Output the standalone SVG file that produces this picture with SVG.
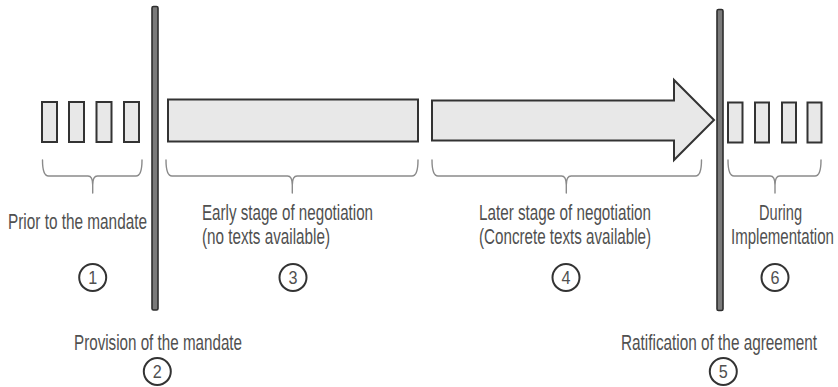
<svg xmlns="http://www.w3.org/2000/svg" width="838" height="387" viewBox="0 0 838 387">
  <style>
    .box { fill: #e8e8e8; stroke: #333; stroke-width: 2; }
    .bar { fill: #7a7a7a; stroke: #2e2e2e; stroke-width: 1.6; }
    .brace { fill: none; stroke: #8a8a8a; stroke-width: 1.4; stroke-linecap: round; }
    .lbl { font-family: "Liberation Sans", "DejaVu Sans", sans-serif; font-size: 22px; fill: #505050; }
    .num circle { fill: #fff; stroke: #333; stroke-width: 2; }
    .num text { font-family: "Liberation Sans", "DejaVu Sans", sans-serif; font-size: 19px; fill: #505050; text-anchor: middle; }
  </style>
  <rect width="838" height="387" fill="#fff"/>

  <!-- phase 1: before the mandate -->
  <g id="prior">
    <rect class="box" x="42" y="102" width="15" height="40"/>
    <rect class="box" x="69" y="102" width="15" height="40"/>
    <rect class="box" x="96.5" y="102" width="15" height="40"/>
    <rect class="box" x="124" y="102" width="15" height="40"/>
    <text class="lbl" x="8" y="229" textLength="139" lengthAdjust="spacingAndGlyphs">Prior to the mandate</text>
    <g class="num"><circle cx="92.7" cy="277.5" r="13.5"/><text x="92.7" y="284" textLength="9" lengthAdjust="spacingAndGlyphs">1</text></g>
  </g>

  <!-- milestone: mandate -->
  <g id="mandate">
    <rect class="bar" x="152" y="6.5" width="6" height="303.5" rx="1.5"/>
    <text class="lbl" x="74" y="350" textLength="168" lengthAdjust="spacingAndGlyphs">Provision of the mandate</text>
    <g class="num"><circle cx="157.3" cy="371.5" r="13.5"/><text x="157.3" y="378" textLength="9" lengthAdjust="spacingAndGlyphs">2</text></g>
  </g>

  <!-- phase 3: early negotiation -->
  <g id="early">
    <rect class="box" x="168" y="99.5" width="250" height="42"/>
    <text class="lbl" x="202" y="220" textLength="171" lengthAdjust="spacingAndGlyphs">Early stage of negotiation</text>
    <text class="lbl" x="202" y="244" textLength="128" lengthAdjust="spacingAndGlyphs">(no texts available)</text>
    <g class="num"><circle cx="293" cy="277.5" r="13.5"/><text x="293" y="284" textLength="9" lengthAdjust="spacingAndGlyphs">3</text></g>
  </g>

  <!-- phase 4: later negotiation -->
  <g id="later">
    <path class="box" d="M432,100.5 H674 V80 L714,120 L674,160 V140.5 H432 Z" stroke-linejoin="miter"/>
    <text class="lbl" x="479" y="220" textLength="172" lengthAdjust="spacingAndGlyphs">Later stage of negotiation</text>
    <text class="lbl" x="479" y="244" textLength="172" lengthAdjust="spacingAndGlyphs">(Concrete texts available)</text>
    <g class="num"><circle cx="566" cy="277.5" r="13.5"/><text x="566" y="284" textLength="9" lengthAdjust="spacingAndGlyphs">4</text></g>
  </g>

  <!-- milestone: ratification (narrowed labels near the right edge use a horizontal scale) -->
  <g id="ratification">
    <rect class="bar" x="717" y="9.5" width="6" height="301" rx="1.5"/>
    <text class="lbl" transform="translate(621,350) scale(0.697,1)">Ratification of the agreement</text>
    <g class="num"><circle cx="723.3" cy="371.5" r="13.5"/><text x="723.3" y="378" textLength="9" lengthAdjust="spacingAndGlyphs">5</text></g>
  </g>

  <!-- phase 6: implementation -->
  <g id="implementation">
    <rect class="box" x="728" y="102.5" width="14.5" height="40"/>
    <rect class="box" x="755" y="102.5" width="14" height="40"/>
    <rect class="box" x="782" y="102.5" width="14" height="40"/>
    <rect class="box" x="807.5" y="102.5" width="14" height="40"/>
    <text class="lbl" transform="translate(759,220) scale(0.664,1)">During</text>
    <text class="lbl" transform="translate(731,244) scale(0.685,1)">Implementation</text>
    <g class="num"><circle cx="775" cy="277.5" r="13.5"/><text x="775" y="284" textLength="9" lengthAdjust="spacingAndGlyphs">6</text></g>
  </g>

  <!-- curly brackets grouping each phase with its label -->
  <g id="connectors">
    <path class="brace" d="M42.5,160 Q42.5,176 48.5,176 H88 Q92.7,176 92.7,185 V193 M92.7,185 Q92.7,176 97.4,176 H136 Q142,176 142,160"/>
    <path class="brace" d="M166,160 Q166,176 172,176 H287.5 Q292.3,176 292.3,185 V193 M292.3,185 Q292.3,176 297.1,176 H412 Q418,176 418,160"/>
    <path class="brace" d="M432,160 Q432,176 438,176 H561.5 Q566.3,176 566.3,185 V193 M566.3,185 Q566.3,176 571.1,176 H695.5 Q701.5,176 701.5,160"/>
    <path class="brace" d="M728,160 Q728,176 734,176 H770.2 Q775,176 775,185 V193 M775,185 Q775,176 779.8,176 H815 Q821,176 821,160"/>
  </g>
</svg>
